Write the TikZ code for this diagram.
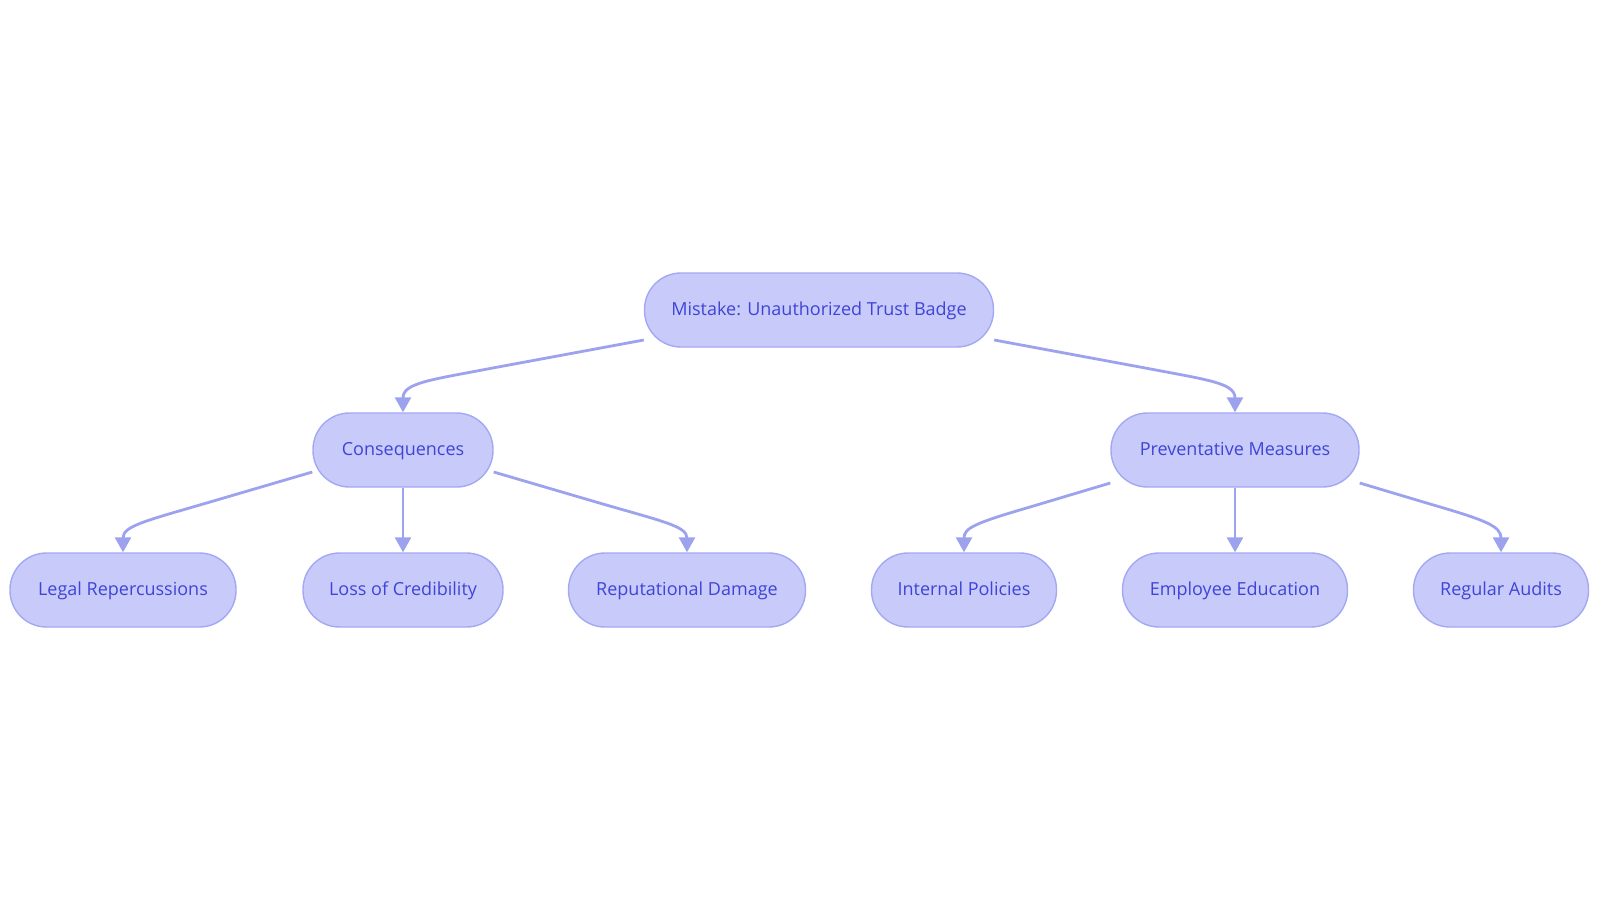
\documentclass[tikz,border=0pt]{standalone}
\usepackage{fontspec}
\setmainfont{Open Sans}
\usetikzlibrary{arrows.meta}
\definecolor{nodefill}{RGB}{200,203,250}
\definecolor{nodeline}{RGB}{163,168,242}
\definecolor{nodetext}{RGB}{63,68,214}
\definecolor{edgecol}{RGB}{157,162,238}
\tikzset{
  box/.style={draw=nodeline, line width=1.4pt, fill=nodefill, rounded corners=36.5pt,
    minimum height=74pt, inner sep=0pt, text height=15pt, text depth=4pt,
    text=nodetext, font=\fontsize{18}{21}\selectfont},
  edge/.style={draw=edgecol, line width=2.8pt, -{Triangle[width=16pt,length=15pt]}}
}
\begin{document}
\begin{tikzpicture}[x=1pt,y=-1pt]
\useasboundingbox (0,0) rectangle (1600,903);
\node[box, minimum width=349pt] (root) at (819,310) {Mistake: Unauthorized Trust Badge};
\node[box, minimum width=180pt] (cons) at (403,450) {Consequences};
\node[box, minimum width=248pt] (prev) at (1235,450) {Preventative Measures};
\node[box, minimum width=226pt] (legal) at (123,590) {Legal Repercussions};
\node[box, minimum width=200pt] (loss) at (403,590) {Loss of Credibility};
\node[box, minimum width=237pt] (rep) at (687,590) {Reputational Damage};
\node[box, minimum width=185pt] (intp) at (964,590) {Internal Policies};
\node[box, minimum width=225pt] (empl) at (1235,590) {Employee Education};
\node[box, minimum width=175pt] (audit) at (1501,590) {Regular Audits};

\draw[edge] ([yshift=-30pt]root.west) -- (490,368.5) .. controls (430,380) and (403,383) .. (cons.north);
\draw[edge] ([yshift=-30pt]root.east) -- (1148,368.5) .. controls (1208,380) and (1235,383) .. (prev.north);
\draw[edge] ([yshift=-22pt]cons.west) -- (210,502) .. controls (145,521) and (123,526) .. (legal.north);
\draw[edge] (cons.south) -- (loss.north);
\draw[edge] ([yshift=-22pt]cons.east) -- (596,502) .. controls (661,521) and (687,526) .. (rep.north);
\draw[edge] ([yshift=-33pt]prev.west) -- (1030,507) .. controls (975,523) and (964,528) .. (intp.north);
\draw[edge] (prev.south) -- (empl.north);
\draw[edge] ([yshift=-33pt]prev.east) -- (1430,504) .. controls (1485,520) and (1501,526) .. (audit.north);
\end{tikzpicture}
\end{document}
